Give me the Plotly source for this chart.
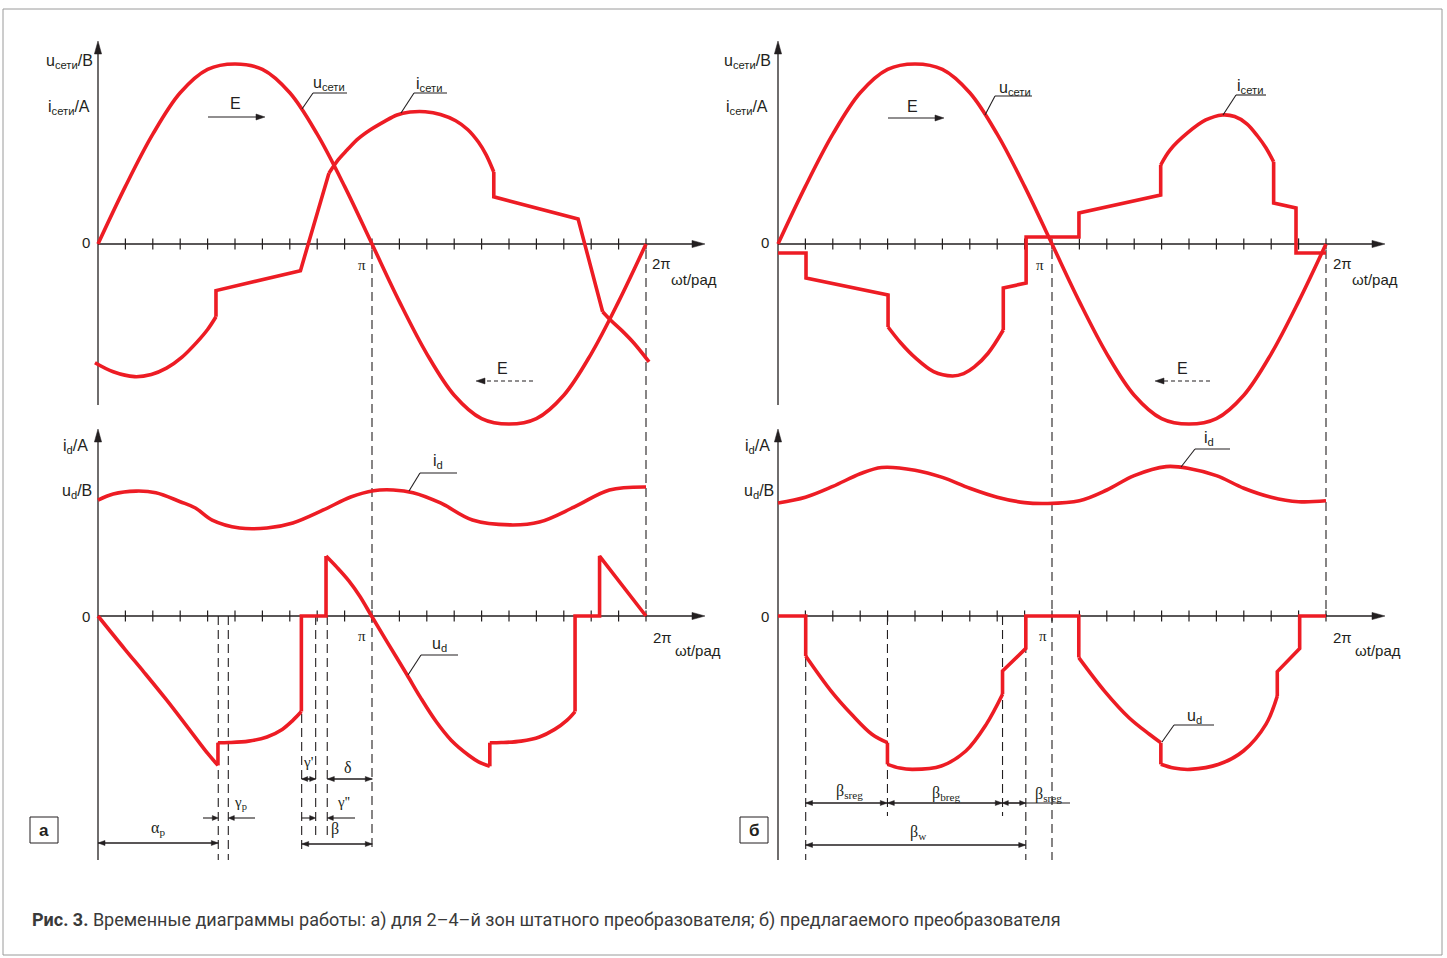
import plotly.graph_objects as go

# ------------------------------------------------------------------
# DATA  (angle in degrees of ωt, value in relative units; 1.0 = amplitude of u_сети)
# ------------------------------------------------------------------
# panel а, upper plot
ua_deg = [0, 18, 36, 54, 72, 90, 108, 126, 144, 162, 180, 198, 216, 234, 252, 270, 288, 306, 324, 342, 360]
ua_val = [0, 0.32, 0.61, 0.84, 0.97, 1.0, 0.97, 0.84, 0.61, 0.32, 0, -0.32, -0.61, -0.84, -0.97, -1.0, -0.97, -0.84, -0.61, -0.32, 0]

ia_deg = [-2, 10, 24, 35, 45, 55, 65, 72, 77.5, 77.5, 133, 151.7, 158, 163.6, 171, 178.7, 188, 196.4, 205, 215,
          225, 235, 243, 250, 255, 260, 260, 315.4, 331.5, 337, 344, 352, 362]
ia_val = [-0.66, -0.71, -0.737, -0.725, -0.69, -0.63, -0.545, -0.475, -0.404, -0.259, -0.148, 0.393, 0.47, 0.522, 0.585,
          0.633, 0.68, 0.717, 0.733, 0.735, 0.72, 0.685, 0.635, 0.565, 0.495, 0.40, 0.262, 0.139, -0.376, -0.425,
          -0.48, -0.55, -0.655]

# panel а, lower plot
ida_deg = [0, 10, 25, 38, 54, 64, 75, 93, 111, 128, 148, 166, 181, 194, 207, 225, 246, 271, 290, 313, 336, 360]
ida_val = [0.644, 0.678, 0.694, 0.685, 0.635, 0.60, 0.533, 0.489, 0.489, 0.517, 0.589, 0.661, 0.696, 0.70, 0.685,
           0.628, 0.533, 0.506, 0.522, 0.606, 0.70, 0.717]

uda_deg = [0, 17.7, 30, 44.9, 61.3, 72.2, 78.8, 78.8, 86, 99, 111, 121, 128, 133.6, 133.6, 149.8, 149.8, 157, 164.8,
           172, 179.7, 190, 202.9, 212, 222, 232, 243.7, 250, 257.4, 257.4, 265, 278, 290, 300, 308, 313.4, 313.4,
           329.5, 329.5, 360]
uda_val = [0, -0.185, -0.31, -0.465, -0.645, -0.765, -0.83, -0.704, -0.703, -0.695, -0.672, -0.63, -0.58, -0.531, 0,
           0, 0.333, 0.27, 0.195, 0.11, 0, -0.145, -0.325, -0.455, -0.585, -0.69, -0.775, -0.81, -0.835, -0.704,
           -0.703, -0.695, -0.672, -0.63, -0.58, -0.531, 0, 0, 0.333, 0]

# panel б, upper plot
ub_deg = ua_deg
ub_val = ua_val

ib_deg = [0, 18.4, 18.4, 72.3, 72.3, 80.7, 90.3, 102.2, 114.6, 122, 129, 138, 148, 148, 163, 163, 197.7, 197.7,
          251.4, 251.4, 257.5, 269, 281, 292, 300, 308, 315, 320.5, 325.6, 325.6, 340.3, 340.3, 360]
ib_val = [-0.05, -0.05, -0.189, -0.283, -0.461, -0.55, -0.633, -0.709, -0.733, -0.72, -0.683, -0.607, -0.478, -0.244,
          -0.217, 0.039, 0.039, 0.172, 0.272, 0.439, 0.522, 0.617, 0.689, 0.717, 0.708, 0.668, 0.60, 0.535, 0.457,
          0.228, 0.20, -0.05, -0.05]

# panel б, lower plot
idb_deg = [0, 18, 36, 54, 68, 90, 108, 126, 144, 162, 176, 198, 216, 234, 255, 270, 288, 306, 324, 342, 360]
idb_val = [0.628, 0.66, 0.72, 0.79, 0.825, 0.81, 0.77, 0.71, 0.66, 0.63, 0.625, 0.64, 0.70, 0.78, 0.83, 0.82, 0.78,
           0.71, 0.66, 0.635, 0.64]

udb_deg = [0, 18.2, 18.2, 34.9, 48.3, 61.7, 71.9, 71.9, 80, 88.5, 107.3, 123.4, 136.8, 147.5, 147.5, 162.8, 162.8,
           197.6, 197.6, 214.5, 230.6, 244, 251.5, 251.5, 260, 270.9, 289.6, 305.7, 320.5, 328, 328, 342.7, 342.7, 360]
udb_val = [0, 0, -0.222, -0.417, -0.546, -0.657, -0.704, -0.824, -0.845, -0.852, -0.833, -0.75, -0.602, -0.435,
           -0.306, -0.18, 0, 0, -0.231, -0.417, -0.565, -0.657, -0.704, -0.824, -0.845, -0.852, -0.824, -0.75, -0.602,
           -0.444, -0.309, -0.18, 0, 0]

# which index ranges of the piecewise curves are smooth arcs (spline) vs straight pieces
ia_pieces = [(0, 8, 'spline'), (8, 11, 'linear'), (11, 25, 'spline'), (25, 28, 'linear'), (28, 32, 'spline')]
uda_pieces = [(0, 6, 'spline'), (6, 7, 'linear'), (7, 13, 'spline'), (13, 16, 'linear'), (16, 28, 'spline'),
              (28, 29, 'linear'), (29, 35, 'spline'), (35, 39, 'linear')]
ib_pieces = [(0, 4, 'linear'), (4, 12, 'spline'), (12, 19, 'linear'), (19, 28, 'spline'), (28, 32, 'linear')]
udb_pieces = [(0, 2, 'linear'), (2, 6, 'spline'), (6, 7, 'linear'), (7, 13, 'spline'), (13, 18, 'linear'),
              (18, 22, 'spline'), (22, 23, 'linear'), (23, 29, 'spline'), (29, 33, 'linear')]

# axis tick positions (every π/10)
tick_deg = [18, 36, 54, 72, 90, 108, 126, 144, 162, 180, 198, 216, 234, 252, 270, 288, 306, 324, 342, 360]

# guide (dashed) angles
guide_a_lower = [79.0, 85.6, 133.8, 143.0, 150.6]
guide_b_lower = [18.2, 71.9, 147.5, 162.8]

caption_bold = "Рис. 3."
caption_rest = " Временные диаграммы работы: а) для 2–4–й зон штатного преобразователя; б) предлагаемого преобразователя"

# ------------------------------------------------------------------
# LAYOUT GEOMETRY
# ------------------------------------------------------------------
W, H = 1447, 958
RED = '#ED1C24'
INK = '#231F20'
SANS = 'Liberation Sans, Arial, sans-serif'
SERIF = 'Liberation Serif, Times New Roman, serif'
K = 274 / 180.0      # pixels per degree
S = 180.0            # pixels per unit
OXA, OXB = 98, 778   # x of the origins
YUP, YLO = 244, 616  # y of the zero lines
SPLIT = 432
MID = 723.5

fig = go.Figure()

ax_common = dict(visible=False, fixedrange=True)
up_range = [(YUP - SPLIT) / S, YUP / S]
lo_range = [(YLO - H) / S, (YLO - SPLIT) / S]
fig.update_layout(
    width=W, height=H, margin=dict(l=0, r=0, t=0, b=0),
    paper_bgcolor='white', plot_bgcolor='rgba(0,0,0,0)', showlegend=False,
    xaxis=dict(domain=[0, MID / W], range=[-OXA / K, (MID - OXA) / K], anchor='y', **ax_common),
    yaxis=dict(domain=[1 - SPLIT / H, 1], range=up_range, anchor='x', **ax_common),
    xaxis2=dict(domain=[0, MID / W], range=[-OXA / K, (MID - OXA) / K], anchor='y2', **ax_common),
    yaxis2=dict(domain=[0, 1 - SPLIT / H], range=lo_range, anchor='x2', **ax_common),
    xaxis3=dict(domain=[MID / W, 1], range=[(MID - OXB) / K, (W - OXB) / K], anchor='y3', **ax_common),
    yaxis3=dict(domain=[1 - SPLIT / H, 1], range=up_range, anchor='x3', **ax_common),
    xaxis4=dict(domain=[MID / W, 1], range=[(MID - OXB) / K, (W - OXB) / K], anchor='y4', **ax_common),
    yaxis4=dict(domain=[0, 1 - SPLIT / H], range=lo_range, anchor='x4', **ax_common),
)

subplots = [('x', 'y'), ('x2', 'y2'), ('x3', 'y3'), ('x4', 'y4')]

# tick marks first (under the curves)
for xa, ya in subplots:
    fig.add_trace(go.Scatter(x=tick_deg, y=[0] * len(tick_deg), mode='markers', xaxis=xa, yaxis=ya,
                             marker=dict(symbol='line-ns', size=8, line=dict(width=1.2, color=INK)),
                             hoverinfo='skip'))


def curve(xs, ys, xa, ya, shape='linear'):
    fig.add_trace(go.Scatter(x=xs, y=ys, mode='lines', xaxis=xa, yaxis=ya, hoverinfo='skip',
                             line=dict(color=RED, width=3.6, shape=shape)))


def pieces(xs, ys, xa, ya, parts):
    for i0, i1, shp in parts:
        curve(xs[i0:i1 + 1], ys[i0:i1 + 1], xa, ya, shp)


curve(ua_deg, ua_val, 'x', 'y', 'spline')
pieces(ia_deg, ia_val, 'x', 'y', ia_pieces)
curve(ida_deg, ida_val, 'x2', 'y2', 'spline')
pieces(uda_deg, uda_val, 'x2', 'y2', uda_pieces)
curve(ub_deg, ub_val, 'x3', 'y3', 'spline')
pieces(ib_deg, ib_val, 'x3', 'y3', ib_pieces)
curve(idb_deg, idb_val, 'x4', 'y4', 'spline')
pieces(udb_deg, udb_val, 'x4', 'y4', udb_pieces)


# ------------------------------------------------------------------
# helpers for decorations (pixel positions -> paper)
# ------------------------------------------------------------------
def P(x, y):
    return x / W, 1 - y / H


def seg(x0, y0, x1, y1, width=1.1, dash=None, color=INK, layer='above'):
    a, b = P(x0, y0), P(x1, y1)
    fig.add_shape(type='line', xref='paper', yref='paper', x0=a[0], y0=a[1], x1=b[0], y1=b[1],
                  line=dict(color=color, width=width, dash=dash), layer=layer)


def head(tx, ty, dx, dy, L=7, w=2.5):
    bx, by = tx - dx * L, ty - dy * L
    nx, ny = -dy, dx
    pts = [(tx, ty), (bx + nx * w, by + ny * w), (bx - nx * w, by - ny * w)]
    path = 'M ' + ' L '.join(f'{x / W:.6f},{1 - y / H:.6f}' for x, y in pts) + ' Z'
    fig.add_shape(type='path', xref='paper', yref='paper', path=path, fillcolor=INK,
                  line=dict(color=INK, width=0.5))


def harrow(x0, x1, y, both=False, L=7, w=2.5, dash=None, width=1.1):
    d = 1 if x1 > x0 else -1
    seg(x0, y, x1 - d * (L - 1), y, width=width, dash=dash)
    if both:
        seg(x0 + d * (L - 1), y, x1, y, width=width)
    head(x1, y, d, 0, L, w)
    if both:
        head(x0, y, -d, 0, L, w)


def txt(s, x, y, size=16, family=SANS, xanchor='center', yanchor='middle', color=INK):
    fig.add_annotation(text=s, x=x / W, y=1 - y / H, xref='paper', yref='paper', showarrow=False,
                       font=dict(size=size, family=family, color=color), xanchor=xanchor, yanchor=yanchor,
                       borderpad=0)


def guide(xa, ya, deg, y0, y1):
    fig.add_shape(type='line', xref=xa, yref=ya, x0=deg, x1=deg, y0=y0, y1=y1, layer='below',
                  line=dict(color=INK, width=1.1, dash='9px,5px'))


# outer frame
f0, f1 = P(3, 955), P(1442, 9)
fig.add_shape(type='rect', xref='paper', yref='paper', x0=f0[0], y0=f0[1], x1=f1[0], y1=f1[1],
              line=dict(color='#9a9a9a', width=1), layer='below')

# axes (lines below curves, arrowheads on top)
for ox, x_end in ((OXA, 705), (OXB, 1385)):
    seg(ox, YUP, x_end - 10, YUP, width=1.3, layer='below')
    head(x_end, YUP, 1, 0, L=13, w=3.6)
    seg(ox, 405, ox, 52, width=1.3, layer='below')
    head(ox, 41, 0, -1, L=13, w=3.6)
    seg(ox, YLO, x_end - 10, YLO, width=1.3, layer='below')
    head(x_end, YLO, 1, 0, L=13, w=3.6)
    seg(ox, 860, ox, 440, width=1.3, layer='below')
    head(ox, 429, 0, -1, L=13, w=3.6)

# dashed guide lines through π and 2π
y_dash_top = (YUP - 250) / S
for xa, ya, xb, yb, lo_end in (('x', 'y', 'x2', 'y2', (YLO - 852) / S), ('x3', 'y3', 'x4', 'y4', (YLO - 860) / S)):
    guide(xa, ya, 180, y_dash_top, up_range[0])
    guide(xb, yb, 180, lo_range[1], lo_end)
    guide(xa, ya, 360, y_dash_top, up_range[0])
    guide(xb, yb, 360, lo_range[1], 0)

for d, yend in zip(guide_a_lower, [860, 860, 852, 836, 836]):
    guide('x2', 'y2', d, 0, (YLO - yend) / S)
for d, yend in zip(guide_b_lower, [860, 816, 816, 860]):
    guide('x4', 'y4', d, 0, (YLO - yend) / S)

# ---------------- panel а texts ----------------
txt('u<sub>сети</sub>/B', 94, 61, xanchor='right')
txt('i<sub>сети</sub>/A', 91, 107, xanchor='right')
txt('0', 86, 243, size=15)
txt('E', 235, 103)
harrow(208, 265, 117, L=9, w=3)
txt('u<sub>сети</sub>', 329, 84)
seg(302, 109, 313, 93); seg(313, 93, 347, 93)
txt('i<sub>сети</sub>', 429, 85)
seg(401, 113, 414, 93); seg(414, 93, 447, 93)
txt('π', 362, 265, size=15, family=SERIF)
txt('2π', 661, 263, size=15)
txt('ωt/рад', 694, 279, size=15)
txt('E', 503, 368)
harrow(533, 476, 381, L=9, w=3, dash='4px,3px')

txt('i<sub>d</sub>/A', 89, 446, xanchor='right')
txt('u<sub>d</sub>/B', 93, 491, xanchor='right')
txt('0', 86, 616, size=15)
txt('i<sub>d</sub>', 438, 462)
seg(409, 491, 420, 473); seg(420, 473, 457, 473)
txt('π', 362, 636, size=15, family=SERIF)
txt('2π', 662, 637, size=15)
txt('ωt/рад', 698, 650, size=15)
txt('u<sub>d</sub>', 439, 644)
seg(408, 675, 421, 655); seg(421, 655, 458, 655)

txt("γ'", 308, 762, size=15, family=SERIF)
harrow(301.7, 315.7, 779, both=True, L=6, w=2.4)
txt('δ', 348, 767, size=16, family=SERIF)
harrow(327.3, 372.3, 779, both=True)
txt('γ<sub>p</sub>', 241, 803, size=15, family=SERIF)
harrow(203, 218.3, 818, L=6, w=2.4)
harrow(255, 228.3, 818, L=6, w=2.4)
txt("γ''", 343, 802, size=15, family=SERIF)
harrow(301.7, 315.7, 818, L=6, w=2.4)
harrow(355, 327.3, 818, L=6, w=2.4)
txt('β', 335, 829, size=16, family=SERIF)
harrow(301.7, 372.3, 844, both=True)
txt('α<sub>p</sub>', 158, 828, size=16, family=SERIF)
harrow(98, 218.3, 843, both=True)

b0, b1 = P(30, 843), P(58, 817)
fig.add_shape(type='rect', xref='paper', yref='paper', x0=b0[0], y0=b0[1], x1=b1[0], y1=b1[1],
              line=dict(color=INK, width=1))
txt('<b>а</b>', 44, 830, size=17)

# ---------------- panel б texts ----------------
txt('u<sub>сети</sub>/B', 772, 61, xanchor='right')
txt('i<sub>сети</sub>/A', 769, 107, xanchor='right')
txt('0', 765, 243, size=15)
txt('E', 912, 106)
harrow(888, 944, 118, L=9, w=3)
txt('u<sub>сети</sub>', 1015, 88)
seg(985, 115, 995, 96); seg(995, 96, 1032, 96)
txt('i<sub>сети</sub>', 1250, 87)
seg(1223, 115, 1236, 95); seg(1236, 95, 1266, 95)
txt('π', 1040, 265, size=15, family=SERIF)
txt('2π', 1342, 263, size=15)
txt('ωt/рад', 1375, 279, size=15)
txt('E', 1182, 368)
harrow(1210, 1155, 381, L=9, w=3, dash='4px,3px')

txt('i<sub>d</sub>/A', 771, 446, xanchor='right')
txt('u<sub>d</sub>/B', 775, 491, xanchor='right')
txt('0', 765, 616, size=15)
txt('i<sub>d</sub>', 1209, 438)
seg(1181, 467, 1195, 449); seg(1195, 449, 1230, 449)
txt('π', 1043, 636, size=15, family=SERIF)
txt('2π', 1342, 637, size=15)
txt('ωt/рад', 1378, 650, size=15)
txt('u<sub>d</sub>', 1194, 716)
seg(1162, 742, 1174, 725); seg(1174, 725, 1214, 725)

txt('β<sub>sreg</sub>', 849, 791, size=16, family=SERIF)
harrow(805.5, 887.3, 803, both=True)
txt('β<sub>breg</sub>', 946, 793, size=16, family=SERIF)
harrow(887.3, 1002.3, 803, both=True)
harrow(1002.3, 1025.7, 803, both=True, L=6, w=2.4)
seg(1025.7, 803, 1070, 803)
txt('β<sub>sreg</sub>', 1048, 794, size=16, family=SERIF)
txt('β<sub>w</sub>', 918, 832, size=16, family=SERIF)
harrow(805.5, 1025.7, 845, both=True)

b0, b1 = P(740, 843), P(768, 817)
fig.add_shape(type='rect', xref='paper', yref='paper', x0=b0[0], y0=b0[1], x1=b1[0], y1=b1[1],
              line=dict(color=INK, width=1))
txt('<b>б</b>', 754, 830, size=17)

# caption
fig.add_annotation(text=f'<b>{caption_bold}</b>{caption_rest}', x=30 / W, y=1 - 920 / H, xref='paper',
                   yref='paper', showarrow=False, xanchor='left', yanchor='middle',
                   font=dict(size=18, family='Roboto, Liberation Sans, sans-serif', color='#3a3a3a'))

fig.write_html('out.html', config={'displayModeBar': False},
               post_script="document.body.style.margin='0';document.body.style.overflow='hidden';")
